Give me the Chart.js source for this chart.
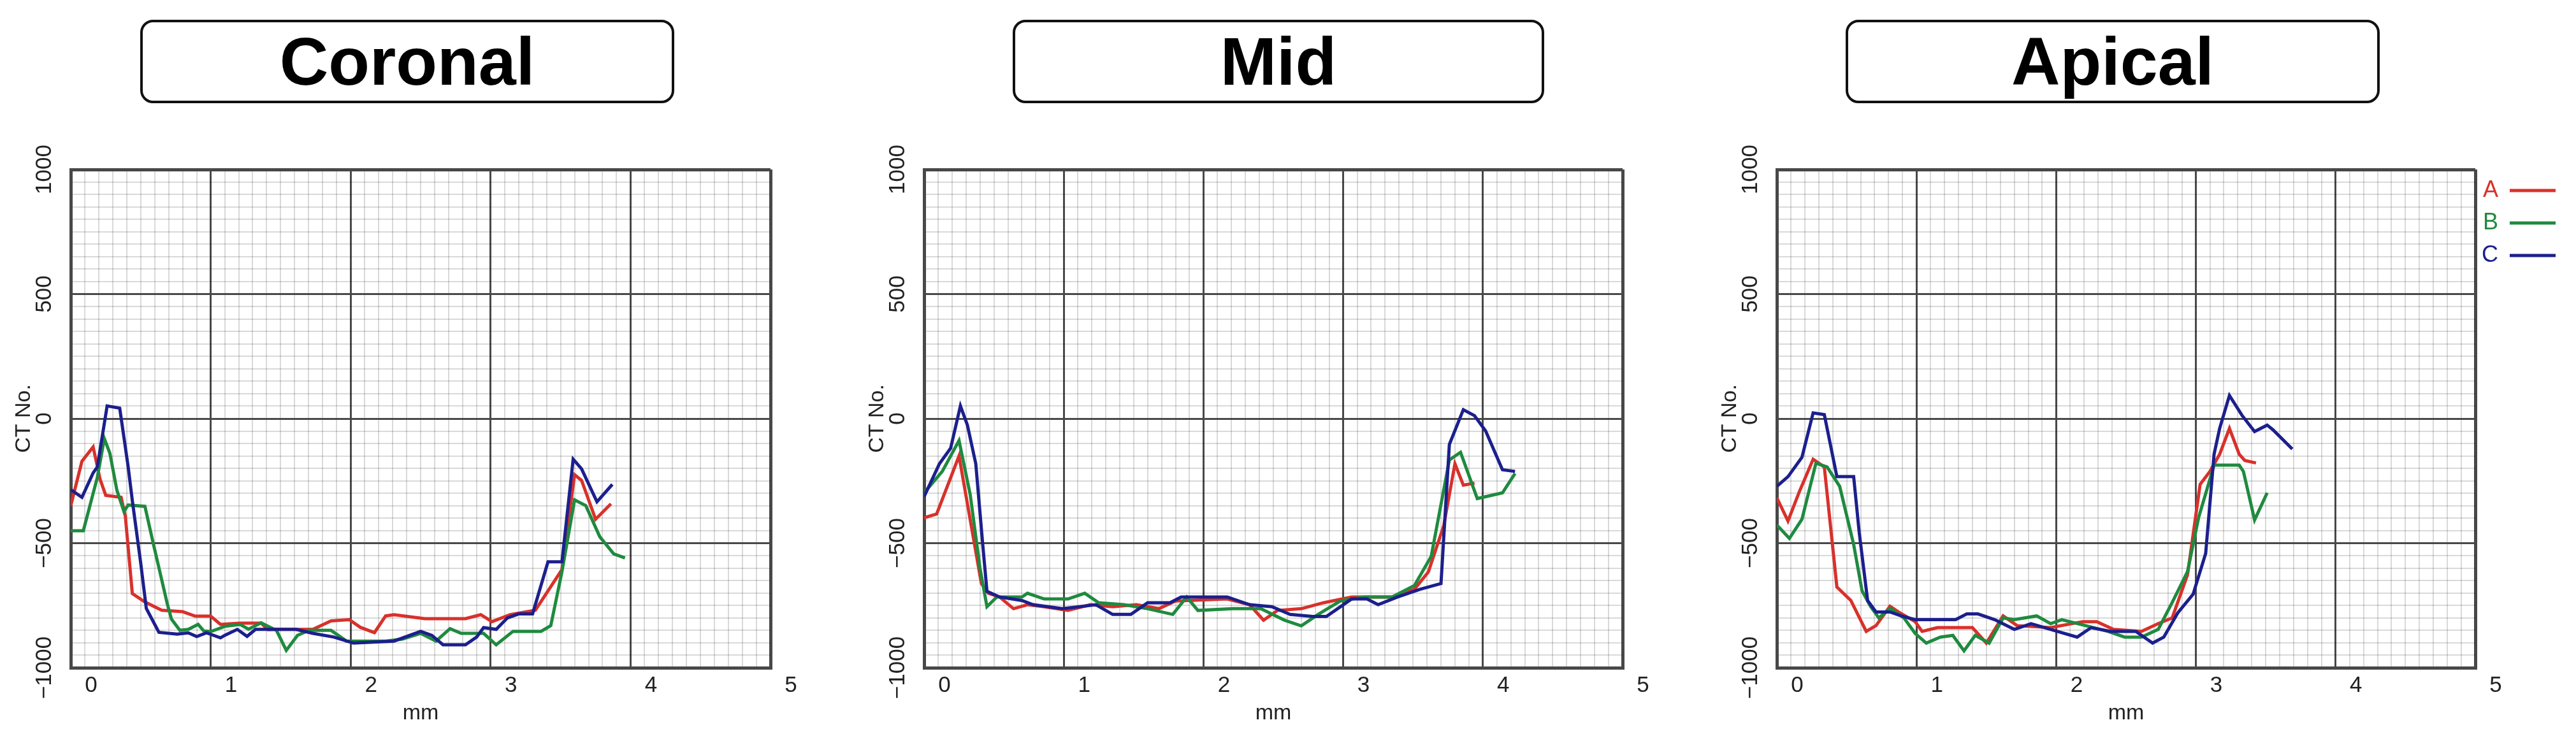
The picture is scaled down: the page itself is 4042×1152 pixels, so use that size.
<!DOCTYPE html>
<html>
<head>
<meta charset="utf-8">
<script src="https://cdn.jsdelivr.net/npm/chart.js@4.4.1/dist/chart.umd.min.js"></script>
<style>
  body { margin: 0; background: #fff; width: 4042px; height: 1152px; position: relative; overflow: hidden; font-family: "Liberation Sans", Arial, sans-serif; }
  .title { position: absolute; top: 31px; height: 131px; box-sizing: border-box; border: 4px solid #111; border-radius: 20px;
           display: flex; align-items: center; justify-content: center; font-weight: bold; font-size: 106px; color: #000; }
  canvas { position: absolute; top: 200px; }
</style>
</head>
<body>
<div class="title" style="left:220px;width:838px">Coronal</div>
<div class="title" style="left:1589px;width:834px">Mid</div>
<div class="title" style="left:2896px;width:838px">Apical</div>

<canvas id="chartCoronal" width="1289" height="952" style="left:0px"></canvas>
<canvas id="chartMid" width="1287" height="952" style="left:1339px"></canvas>
<canvas id="chartApical" width="1365" height="952" style="left:2677px"></canvas>

<script>
// Nhãn trục
const xTickLabels = ['0', '1', '2', '3', '4', '5'];
const yTickLabels = ['\u22121000', '\u2212500', '0', '500', '1000'];
const seriesNames = ['A', 'B', 'C'];
const seriesColors = ['#d8312b', '#1f8a3f', '#1c1f8c'];

// Coronal
const coronalAX = [0, 0.08, 0.16, 0.21, 0.25, 0.36, 0.39, 0.44, 0.53, 0.65, 0.8, 0.89, 1.0, 1.07, 1.21, 1.36, 1.41, 1.48, 1.73, 1.86, 1.99, 2.07, 2.17, 2.25, 2.31, 2.53, 2.82, 2.93, 3.01, 3.14, 3.32, 3.51, 3.6, 3.65, 3.75, 3.86];
const coronalAY = [-350, -171, -114, -244, -308, -316, -391, -702, -736, -769, -775, -793, -793, -826, -821, -821, -847, -846, -846, -812, -807, -838, -859, -792, -787, -803, -803, -787, -815, -787, -769, -606, -225, -248, -404, -342];
const coronalBX = [0, 0.09, 0.19, 0.24, 0.28, 0.33, 0.38, 0.41, 0.53, 0.59, 0.69, 0.72, 0.78, 0.84, 0.91, 0.95, 1.0, 1.1, 1.21, 1.27, 1.36, 1.47, 1.54, 1.62, 1.7, 1.86, 1.97, 2.25, 2.37, 2.5, 2.61, 2.71, 2.79, 2.95, 3.04, 3.16, 3.36, 3.43, 3.51, 3.6, 3.68, 3.78, 3.88, 3.96];
const coronalBY = [-450, -450, -236, -80, -140, -288, -373, -347, -352, -502, -744, -805, -850, -846, -826, -852, -855, -834, -826, -845, -820, -850, -930, -870, -850, -850, -893, -893, -885, -862, -893, -843, -862, -862, -908, -854, -854, -831, -614, -326, -349, -474, -543, -559];
const coronalCX = [0, 0.08, 0.16, 0.19, 0.26, 0.35, 0.41, 0.44, 0.5, 0.54, 0.63, 0.76, 0.84, 0.9, 0.97, 1.07, 1.1, 1.19, 1.26, 1.32, 1.48, 1.61, 1.73, 1.88, 2.02, 2.31, 2.5, 2.58, 2.66, 2.82, 2.9, 2.95, 3.04, 3.12, 3.2, 3.3, 3.41, 3.51, 3.59, 3.65, 3.76, 3.87];
const coronalCY = [-285, -316, -218, -194, 51, 42, -192, -329, -580, -762, -858, -865, -860, -875, -860, -880, -870, -846, -874, -846, -846, -846, -862, -877, -901, -893, -854, -870, -908, -908, -877, -839, -846, -800, -784, -784, -575, -575, -163, -202, -334, -264];

// Mid
const midAX = [0, 0.09, 0.25, 0.41, 0.46, 0.54, 0.64, 0.74, 0.86, 1.03, 1.19, 1.35, 1.52, 1.68, 1.8, 2.17, 2.33, 2.43, 2.53, 2.7, 2.86, 3.06, 3.35, 3.51, 3.61, 3.72, 3.8, 3.86, 3.94];
const midAY = [-398, -383, -150, -662, -701, -716, -763, -747, -755, -770, -747, -755, -747, -763, -732, -724, -747, -809, -770, -763, -739, -716, -716, -685, -615, -429, -181, -267, -259];
const midBX = [0, 0.13, 0.25, 0.33, 0.4, 0.45, 0.52, 0.7, 0.74, 0.86, 1.03, 1.15, 1.25, 1.43, 1.6, 1.78, 1.88, 1.96, 2.21, 2.41, 2.58, 2.7, 2.82, 2.98, 3.15, 3.35, 3.51, 3.63, 3.76, 3.84, 3.96, 4.14, 4.23];
const midBY = [-298, -212, -88, -305, -600, -755, -716, -716, -701, -724, -724, -701, -739, -747, -763, -786, -716, -770, -763, -763, -809, -832, -786, -732, -716, -716, -670, -553, -166, -135, -321, -298, -220];
const midCX = [0, 0.11, 0.19, 0.26, 0.31, 0.37, 0.42, 0.45, 0.54, 0.7, 0.78, 0.99, 1.11, 1.23, 1.35, 1.48, 1.6, 1.76, 1.84, 2.17, 2.33, 2.49, 2.62, 2.78, 2.88, 3.06, 3.17, 3.25, 3.39, 3.55, 3.7, 3.76, 3.86, 3.94, 4.02, 4.14, 4.23];
const midCY = [-313, -181, -119, 51, -26, -181, -507, -693, -716, -730, -747, -763, -755, -747, -786, -786, -739, -739, -716, -716, -747, -755, -786, -794, -794, -724, -724, -747, -716, -685, -662, -104, 36, 12, -50, -205, -212];

// Apical
const apicalAX = [0, 0.08, 0.16, 0.26, 0.34, 0.43, 0.53, 0.64, 0.71, 0.81, 0.87, 0.99, 1.04, 1.15, 1.4, 1.5, 1.62, 1.72, 1.96, 2.19, 2.29, 2.41, 2.61, 2.73, 2.83, 2.94, 3.03, 3.1, 3.17, 3.24, 3.31, 3.35, 3.43];
const apicalAY = [-318, -411, -295, -163, -194, -676, -730, -854, -831, -753, -776, -815, -854, -839, -839, -901, -792, -831, -839, -815, -815, -846, -854, -823, -800, -627, -264, -212, -143, -39, -143, -168, -178];
const apicalBX = [0, 0.09, 0.18, 0.28, 0.36, 0.45, 0.55, 0.61, 0.67, 0.73, 0.81, 0.91, 0.99, 1.07, 1.17, 1.26, 1.34, 1.42, 1.52, 1.62, 1.7, 1.86, 1.96, 2.04, 2.21, 2.37, 2.49, 2.61, 2.73, 2.83, 2.94, 3.02, 3.13, 3.31, 3.34, 3.42, 3.51];
const apicalBY = [-427, -481, -404, -179, -194, -272, -505, -691, -753, -800, -761, -800, -862, -901, -877, -870, -932, -870, -901, -800, -807, -792, -823, -807, -831, -854, -877, -877, -846, -738, -614, -396, -187, -187, -212, -407, -298];
const apicalCX = [0, 0.08, 0.18, 0.26, 0.34, 0.43, 0.55, 0.59, 0.65, 0.71, 0.81, 0.89, 0.99, 1.28, 1.36, 1.44, 1.56, 1.7, 1.82, 1.96, 2.15, 2.25, 2.39, 2.57, 2.69, 2.77, 2.87, 2.98, 3.07, 3.13, 3.17, 3.24, 3.33, 3.42, 3.51, 3.55, 3.69];
const apicalCY = [-272, -233, -155, 23, 16, -233, -233, -458, -730, -776, -776, -792, -807, -807, -784, -784, -807, -846, -823, -846, -877, -839, -854, -854, -901, -877, -780, -705, -541, -143, -39, 93, 13, -52, -26, -44, -122];

const FONT = '"Liberation Sans", Arial, sans-serif';
const MAJOR = '#484848';
const MINOR = 'rgba(0, 0, 0, 0.15)';

function isMultiple(v, step) {
    return Math.abs(v / step - Math.round(v / step)) < 1e-6;
}

function toPoints(xs, ys) {
    return xs.map((x, i) => ({ x: x, y: ys[i] }));
}

function drawPanel(id, xsList, ysList, showLegend, padRight) {
    const datasets = xsList.map((xs, k) => ({
        label: seriesNames[k],
        data: toPoints(xs, ysList[k]),
        borderColor: seriesColors[k],
        backgroundColor: seriesColors[k],
        borderWidth: 5,
        pointRadius: 0,
        tension: 0,
        fill: false,
        order: 2 - k
    }));

    new Chart(document.getElementById(id), {
        type: 'line',
        data: { datasets: datasets },
        options: {
            responsive: false,
            animation: false,
            devicePixelRatio: 1,
            layout: { padding: { left: 0, top: 66, right: padRight, bottom: 0 } },
            plugins: {
                tooltip: { enabled: false },
                legend: {
                    display: showLegend,
                    position: 'right',
                    align: 'start',
                    rtl: true,
                    labels: {
                        usePointStyle: true,
                        pointStyle: 'line',
                        pointStyleWidth: 72,
                        padding: 15,
                        font: { family: FONT, size: 36 },
                        sort: (a, b) => a.datasetIndex - b.datasetIndex,
                        generateLabels: function (chart) {
                            const items = Chart.defaults.plugins.legend.labels.generateLabels(chart);
                            items.forEach(it => { it.fontColor = seriesColors[it.datasetIndex]; });
                            return items;
                        }
                    }
                }
            },
            scales: {
                x: {
                    type: 'linear',
                    min: 0,
                    max: 5,
                    afterFit: s => { s.height = 104; },
                    ticks: {
                        stepSize: 0.1,
                        autoSkip: false,
                        maxRotation: 0,
                        labelOffset: 32,
                        padding: 7,
                        color: '#222',
                        font: { family: FONT, size: 35 },
                        callback: v => isMultiple(v, 1) ? xTickLabels[Math.round(v)] : ''
                    },
                    grid: {
                        drawTicks: false,
                        color: c => (c.tick && isMultiple(c.tick.value, 1)) ? MAJOR : MINOR,
                        lineWidth: c => {
                            if (!c.tick) return 2;
                            if (c.tick.value <= 0 || c.tick.value >= 5) return 5;
                            return isMultiple(c.tick.value, 1) ? 3 : 2;
                        }
                    },
                    border: { display: true, color: MAJOR, width: 5 },
                    title: { display: true, text: 'mm', color: '#222', font: { family: FONT, size: 34 }, padding: { top: 0, bottom: 12 } }
                },
                y: {
                    type: 'linear',
                    min: -1000,
                    max: 1000,
                    afterFit: s => { s.width = 111; },
                    ticks: {
                        stepSize: 50,
                        autoSkip: false,
                        minRotation: 90,
                        maxRotation: 90,
                        crossAlign: 'center',
                        padding: -8,
                        color: '#222',
                        font: { family: FONT, size: 35 },
                        callback: v => isMultiple(v, 500) ? yTickLabels[Math.round((v + 1000) / 500)] : ''
                    },
                    grid: {
                        drawTicks: false,
                        color: c => (c.tick && isMultiple(c.tick.value, 500)) ? MAJOR : MINOR,
                        lineWidth: c => {
                            if (!c.tick) return 2;
                            if (c.tick.value <= -1000 || c.tick.value >= 1000) return 5;
                            return isMultiple(c.tick.value, 500) ? 3 : 2;
                        }
                    },
                    border: { display: true, color: MAJOR, width: 5 },
                    title: { display: true, text: 'CT No.', color: '#222', font: { family: FONT, size: 34 }, padding: { top: 17, bottom: 0 } }
                }
            }
        }
    });
}

drawPanel('chartCoronal', [coronalAX, coronalBX, coronalCX], [coronalAY, coronalBY, coronalCY], false, 80);
drawPanel('chartMid', [midAX, midBX, midCX], [midAY, midBY, midCY], false, 80);
drawPanel('chartApical', [apicalAX, apicalBX, apicalCX], [apicalAY, apicalBY, apicalCY], true, 17);
</script>
</body>
</html>
